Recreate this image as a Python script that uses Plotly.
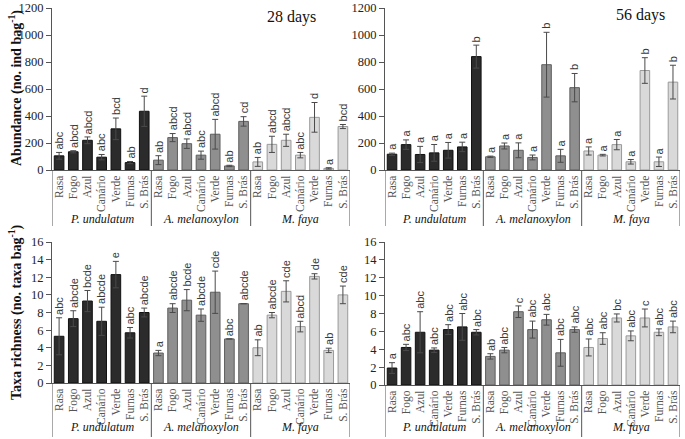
import plotly.graph_objects as go

W, H = 685, 439

sites = ["Rasa", "Fogo", "Azul", "Canário", "Verde", "Furnas", "S. Brás"]
species = ["P. undulatum", "A. melanoxylon", "M. faya"]
bar_colors = ["#2b2b2b", "#8f8f8f", "#d9d9d9"]
edge_colors = ["#111111", "#5e5e5e", "#9a9a9a"]

# abundance, 28 days (P. undulatum, A. melanoxylon, M. faya; 7 sites each)
ab28 = [105, 135, 220, 95, 305, 55, 435,
        73, 240, 195, 110, 265, 30, 360,
        60, 190, 220, 110, 390, 12, 322]
ab28_err = [25, 8, 25, 20, 80, 8, 112,
            33, 30, 35, 30, 110, 5, 35,
            33, 60, 45, 20, 110, 5, 15]
ab28_lbl = ["abc", "abcd", "abcd", "abc", "bcd", "ab", "d",
            "ab", "abcd", "abcd", "abc", "abcd", "ab", "cd",
            "ab", "abcd", "abcd", "abc", "d", "a", "bcd"]

# abundance, 56 days
ab56 = [117, 188, 115, 127, 146, 171, 840,
        98, 178, 146, 93, 780, 105, 610,
        141, 110, 188, 61, 737, 61, 651]
ab56_err = [8, 35, 60, 62, 58, 35, 85,
            5, 22, 55, 18, 240, 48, 105,
            30, 6, 38, 17, 95, 35, 125]
ab56_lbl = ["a", "a", "a", "a", "a", "a", "b",
            "a", "a", "a", "a", "b", "a", "b",
            "a", "a", "a", "a", "b", "a", "b"]

# taxa richness, 28 days
ri28 = [5.3, 7.3, 9.3, 7.0, 12.3, 5.7, 8.0,
        3.4, 8.5, 9.4, 7.7, 10.3, 5.0, 9.0,
        4.0, 7.7, 10.4, 6.4, 12.1, 3.7, 10.0]
ri28_err = [2.1, 0.9, 1.2, 1.6, 1.5, 0.6, 0.5,
            0.3, 0.5, 1.2, 0.7, 2.4, 0.0, 0.0,
            0.9, 0.3, 1.2, 0.6, 0.3, 0.25, 1.0]
ri28_lbl = ["abc", "abcde", "bcde", "abcde", "e", "abc", "abcde",
            "a", "abcde", "bcde", "abcde", "cde", "abc", "abcde",
            "ab", "abcde", "cde", "abcd", "de", "ab", "cde"]

# taxa richness, 56 days
ri56 = [1.9, 4.2, 5.9, 3.9, 6.2, 6.5, 5.9,
        3.2, 3.9, 8.2, 6.2, 7.3, 3.6, 6.2,
        4.2, 5.2, 7.5, 5.5, 7.5, 5.9, 6.5]
ri56_err = [0.6, 0.35, 2.3, 0.25, 0.55, 1.5, 0.3,
            0.3, 0.3, 0.65, 0.95, 0.6, 1.5, 0.3,
            0.95, 0.65, 0.45, 0.55, 1.0, 0.38, 0.65]
ri56_lbl = ["a", "abc", "abc", "abc", "abc", "abc", "abc",
            "ab", "abc", "c", "abc", "abc", "abc", "abc",
            "abc", "abc", "bc", "abc", "c", "abc", "abc"]


def px_x(p):
    return p / W


def px_y(p):
    return 1 - p / H


# pixel geometry of each panel: left, right, y of zero, y of top,
# y of species label, y of box bottom
panels = [
    dict(vals=ab28, err=ab28_err, lbl=ab28_lbl, l=52, r=350, y0=170, y1=8,
         sp=219, bottom=226, rng=[0, 1200], dtick=200),
    dict(vals=ab56, err=ab56_err, lbl=ab56_lbl, l=385, r=680, y0=170, y1=8,
         sp=219, bottom=226, rng=[0, 1200], dtick=200),
    dict(vals=ri28, err=ri28_err, lbl=ri28_lbl, l=52, r=350, y0=383, y1=242,
         sp=427, bottom=437, rng=[0, 16], dtick=2),
    dict(vals=ri56, err=ri56_err, lbl=ri56_lbl, l=385, r=680, y0=385, y1=242,
         sp=427, bottom=437, rng=[0, 16], dtick=2),
]

serif = "Liberation Serif, Times New Roman, serif"
sans = "Liberation Sans, Arial, sans-serif"

fig = go.Figure()
annotations = []
shapes = []
layout = {}

xpos = list(range(21))
ticktext = sites * 3

for i, p in enumerate(panels):
    n = "" if i == 0 else str(i + 1)
    xa, ya = "x" + n, "y" + n
    for s in range(3):
        idx = slice(s * 7, s * 7 + 7)
        fig.add_trace(
            go.Bar(
                x=xpos[idx],
                y=p["vals"][idx],
                xaxis=xa,
                yaxis=ya,
                width=0.68,
                marker=dict(color=bar_colors[s],
                            line=dict(color=edge_colors[s], width=1)),
                error_y=dict(type="data", array=p["err"][idx], visible=True,
                             color="#4a4a4a", thickness=1, width=3),
                showlegend=False,
            )
        )
    for k in range(21):
        annotations.append(dict(
            x=xpos[k], y=p["vals"][k] + p["err"][k], xref=xa, yref=ya,
            text=p["lbl"][k], textangle=-90, showarrow=False,
            xanchor="center", yanchor="bottom", yshift=1,
            font=dict(family=sans, size=11, color="#3a3a3a"),
        ))
    layout["xaxis" + n] = dict(
        domain=[px_x(p["l"]), px_x(p["r"])], range=[-0.5, 20.5],
        anchor=ya, tickmode="array", tickvals=xpos, ticktext=ticktext,
        tickangle=-90, ticks="", showgrid=False, zeroline=False,
        showline=True, linecolor="#555555", linewidth=1, automargin=False,
        tickfont=dict(family=serif, size=11.5, color="#555555"),
        fixedrange=True,
    )
    layout["yaxis" + n] = dict(
        domain=[px_y(p["y0"]), px_y(p["y1"])], range=p["rng"],
        anchor=xa, dtick=p["dtick"], ticks="outside", ticklen=5,
        tickcolor="#555555", showgrid=False, zeroline=False,
        showline=True, linecolor="#555555", linewidth=1, automargin=False,
        tickfont=dict(family=serif, size=12.5, color="#222222"),
        fixedrange=True,
    )
    # group box below the axis
    for xb in [-0.5, 6.5, 13.5, 20.5]:
        shapes.append(dict(
            type="line", xref=xa, yref="paper", x0=xb, x1=xb,
            y0=px_y(p["y0"]), y1=px_y(p["bottom"]),
            line=dict(color="#555555", width=1),
        ))
    for s in range(3):
        annotations.append(dict(
            x=s * 7 + 3, y=px_y(p["sp"]), xref=xa, yref="paper",
            xanchor="center", yanchor="middle",
            text="<i>" + species[s] + "</i>", showarrow=False,
            font=dict(family=serif, size=12, color="#111111"),
        ))

# axis titles and panel titles
annotations += [
    dict(x=px_x(15), y=px_y(88), xref="paper", yref="paper", textangle=-90,
         xanchor="center", yanchor="middle",
         text="<b>Abundance (no. ind bag<sup>-1</sup>)</b>", showarrow=False,
         font=dict(family=serif, size=14, color="#111111")),
    dict(x=px_x(15), y=px_y(312), xref="paper", yref="paper", textangle=-90,
         xanchor="center", yanchor="middle",
         text="<b>Taxa richness (no. taxa bag<sup>-1</sup>)</b>", showarrow=False,
         font=dict(family=serif, size=14, color="#111111")),
    dict(x=px_x(291), y=px_y(17), xref="paper", yref="paper",
         xanchor="center", yanchor="middle",
         text="28 days", showarrow=False,
         font=dict(family=serif, size=16, color="#111111")),
    dict(x=px_x(640), y=px_y(15), xref="paper", yref="paper",
         xanchor="center", yanchor="middle",
         text="56 days", showarrow=False,
         font=dict(family=serif, size=16, color="#111111")),
]

fig.update_layout(
    template="none",
    width=W,
    height=H,
    margin=dict(l=0, r=0, t=0, b=0, pad=0),
    paper_bgcolor="white",
    plot_bgcolor="white",
    annotations=annotations,
    shapes=shapes,
    **layout,
)

# the page body has a default 8px margin; drop it so the figure fills the window
fig.write_html(
    "out.html",
    config={"displayModeBar": False},
    post_script="document.body.style.margin='0';",
)
